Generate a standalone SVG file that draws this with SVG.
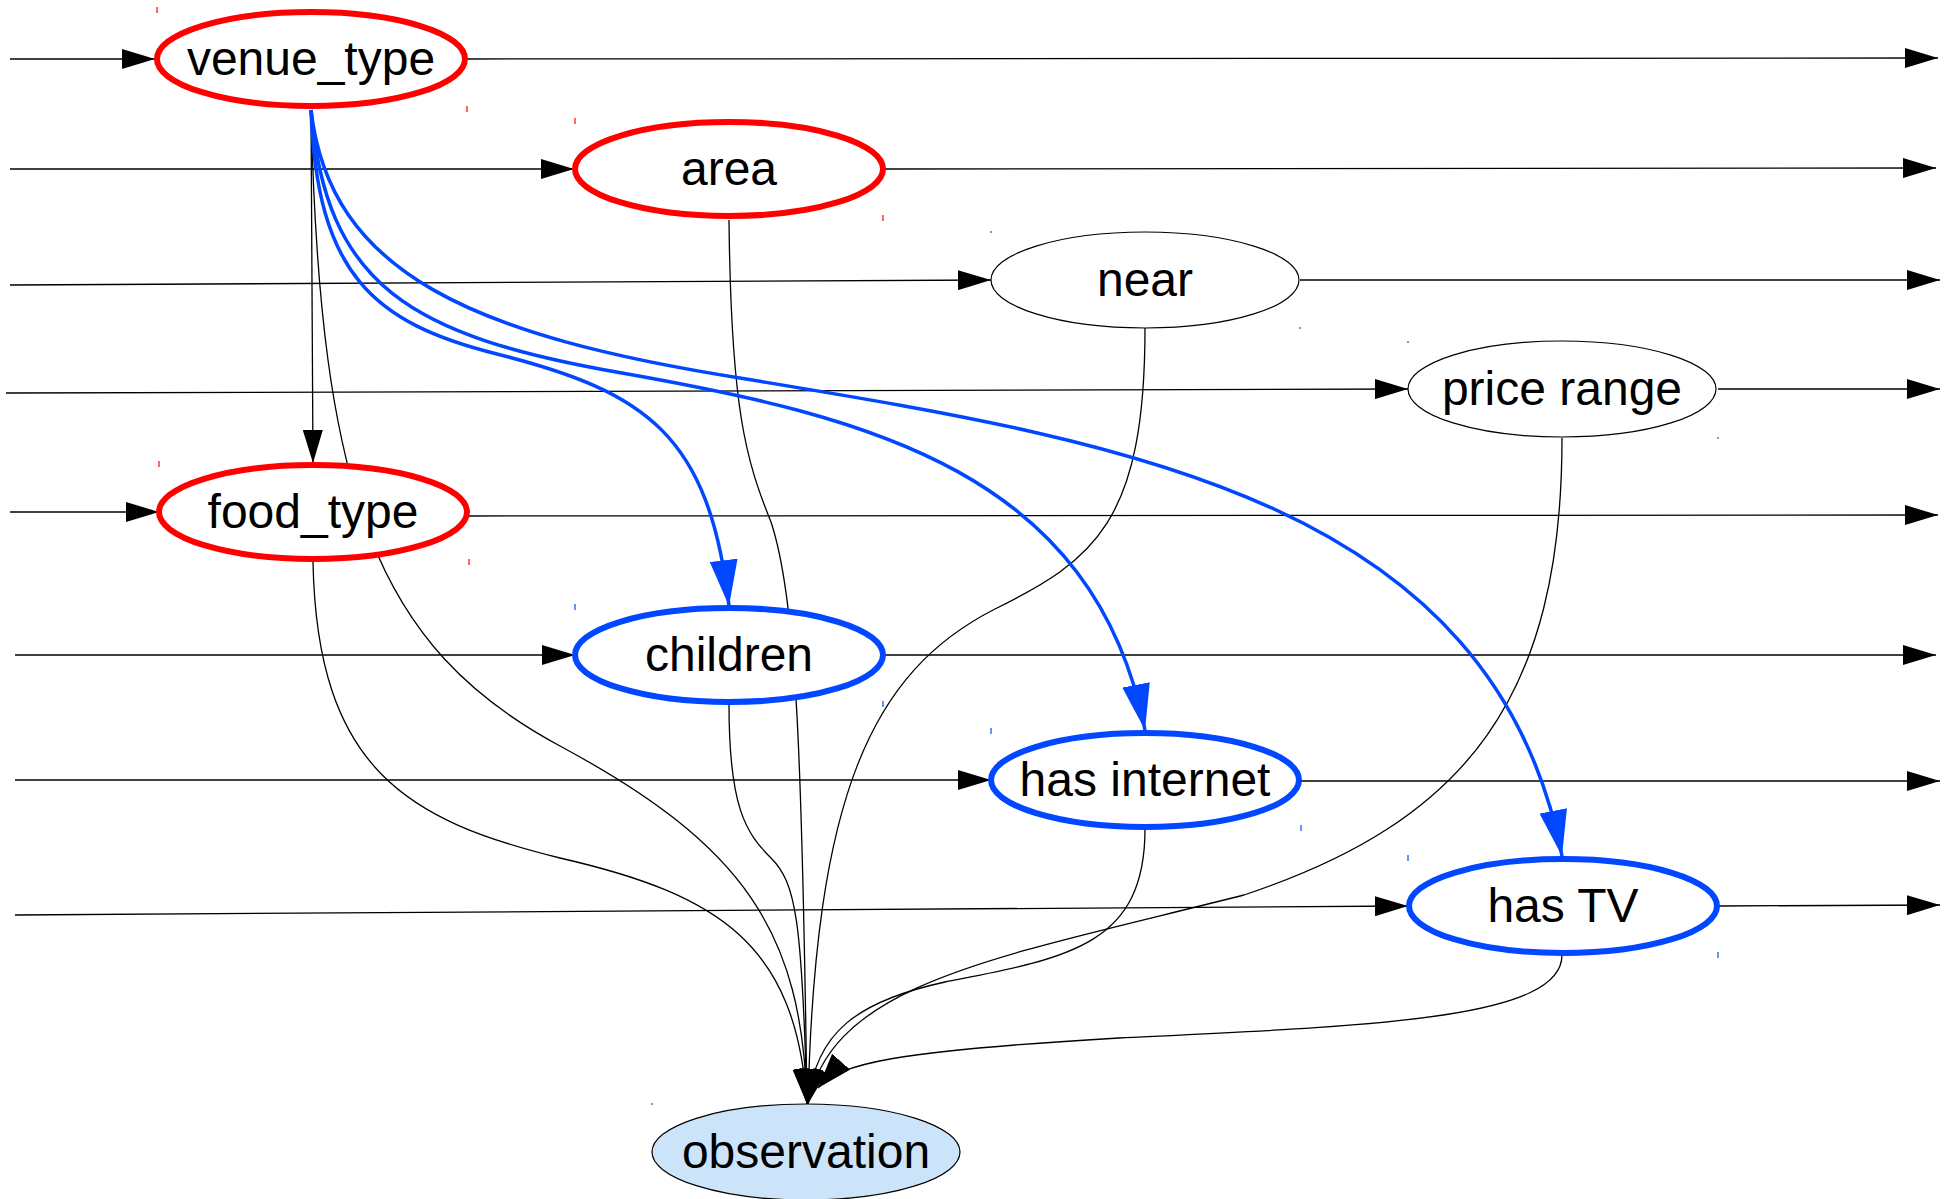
<svg xmlns="http://www.w3.org/2000/svg" width="1950" height="1199" viewBox="0 0 1950 1199">
<style>
.lbl{font-family:"Liberation Sans",Arial,sans-serif;font-size:48px;fill:#000;text-anchor:middle}
.red{fill:#fff;stroke:#ff0000;stroke-width:6}
.blue{fill:#fff;stroke:#0047ff;stroke-width:6}
.plain{fill:#fff;stroke:#000;stroke-width:1.2}
.obs{fill:#cce4fa;stroke:#000;stroke-width:1.2}
.e{fill:none;stroke:#000;stroke-width:1.3}
.be{fill:none;stroke:#0047ff;stroke-width:3.5}
.tr{stroke:#ff0000;stroke-width:1.2}
.tb{stroke:#0047ff;stroke-width:1.2}
.tk{stroke:#555;stroke-width:1.2}
</style>
<defs>
<marker id="ah" markerUnits="userSpaceOnUse" markerWidth="33" markerHeight="20" refX="33" refY="10" orient="auto"><path d="M0,0 L33,10 L0,20 z" fill="#000"/></marker>
<marker id="oh" markerUnits="userSpaceOnUse" markerWidth="35" markerHeight="24" refX="35" refY="12" orient="auto"><path d="M0,0 L35,12 L0,24 z" fill="#000"/></marker>
<marker id="bh" markerUnits="userSpaceOnUse" markerWidth="46" markerHeight="28" refX="46" refY="14" orient="auto"><path d="M0,0 L46,14 L0,28 z" fill="#0047ff"/></marker>
</defs>
<g id="connectors">
<line class="e" x1="10" y1="59" x2="155" y2="59" marker-end="url(#ah)"/>
<line class="e" x1="10" y1="169" x2="574" y2="169" marker-end="url(#ah)"/>
<line class="e" x1="10" y1="285" x2="991" y2="280" marker-end="url(#ah)"/>
<line class="e" x1="6" y1="393" x2="1408" y2="389" marker-end="url(#ah)"/>
<line class="e" x1="10" y1="512" x2="159" y2="512" marker-end="url(#ah)"/>
<line class="e" x1="15" y1="655" x2="575" y2="655" marker-end="url(#ah)"/>
<line class="e" x1="15" y1="780" x2="991" y2="780" marker-end="url(#ah)"/>
<line class="e" x1="15" y1="915" x2="1408" y2="906" marker-end="url(#ah)"/>
<line class="e" x1="466" y1="59" x2="1938" y2="58" marker-end="url(#ah)"/>
<line class="e" x1="883" y1="169" x2="1936" y2="168" marker-end="url(#ah)"/>
<line class="e" x1="1300" y1="280" x2="1940" y2="280" marker-end="url(#ah)"/>
<line class="e" x1="1718" y1="389" x2="1940" y2="389" marker-end="url(#ah)"/>
<line class="e" x1="469" y1="516" x2="1938" y2="515" marker-end="url(#ah)"/>
<line class="e" x1="883" y1="655" x2="1936" y2="655" marker-end="url(#ah)"/>
<line class="e" x1="1301" y1="781" x2="1940" y2="781" marker-end="url(#ah)"/>
<line class="e" x1="1718" y1="906" x2="1940" y2="905" marker-end="url(#ah)"/>
<line class="e" x1="311" y1="110" x2="313" y2="463" marker-end="url(#ah)"/>
<path class="e" d="M311,110 C320,497 376,647 560,746 C746,846 802,933 807,1104" marker-end="url(#oh)"/>
<path class="e" d="M729,220 C731,410 746,460 771,522 C796,597 802,746 807,1104" marker-end="url(#oh)"/>
<path class="e" d="M1145,328 C1145,522 1094,560 995,609 C871,672 815,796 808,1104" marker-end="url(#oh)"/>
<path class="e" d="M1562,438 C1562,697 1467,821 1244,895 C995,958 833,982 808,1104" marker-end="url(#oh)"/>
<path class="e" d="M313,562 C317,771 410,821 560,858 C721,895 796,945 807,1104" marker-end="url(#oh)"/>
<path class="e" d="M729,704 C729,808 746,833 771,858 C796,883 802,920 807,1104" marker-end="url(#oh)"/>
<path class="e" d="M1145,829 C1145,945 1069,958 945,982 C858,1001 815,1032 808,1104" marker-end="url(#oh)"/>
<path class="e" d="M1562,955 C1562,1020 1368,1026 1119,1038 C895,1051 840,1063 818,1088" marker-end="url(#oh)"/>
<path class="be" d="M311,110 C317,274 373,323 497,354 C647,392 709,435 729,606" marker-end="url(#bh)"/>
<path class="be" d="M311,110 C326,286 410,336 622,373 C871,417 1094,473 1145,730" marker-end="url(#bh)"/>
<path class="be" d="M311,110 C330,274 473,336 746,379 C1119,441 1492,497 1562,856" marker-end="url(#bh)"/>
</g>
<g id="venue_type"><ellipse class="red" cx="311" cy="59" rx="154" ry="47"/><text class="lbl" x="311" y="75">venue_type</text><line class="tr" x1="157" y1="7" x2="157" y2="13"/><line class="tr" x1="467" y1="106" x2="467" y2="112"/></g>
<g id="area"><ellipse class="red" cx="729" cy="169" rx="154" ry="47"/><text class="lbl" x="729" y="185">area</text><line class="tr" x1="575" y1="118" x2="575" y2="124"/><line class="tr" x1="883" y1="215" x2="883" y2="221"/></g>
<g id="near"><ellipse class="plain" cx="1145" cy="280" rx="154" ry="48"/><text class="lbl" x="1145" y="296">near</text><line class="tk" x1="991" y1="231" x2="991" y2="233"/><line class="tk" x1="1300" y1="327" x2="1300" y2="329"/></g>
<g id="price_range"><ellipse class="plain" cx="1562" cy="389" rx="154" ry="48"/><text class="lbl" x="1562" y="405">price range</text><line class="tk" x1="1408" y1="341" x2="1408" y2="343"/><line class="tk" x1="1718" y1="437" x2="1718" y2="439"/></g>
<g id="food_type"><ellipse class="red" cx="313" cy="512" rx="154" ry="47"/><text class="lbl" x="313" y="528">food_type</text><line class="tr" x1="159" y1="461" x2="159" y2="467"/><line class="tr" x1="469" y1="559" x2="469" y2="565"/></g>
<g id="children"><ellipse class="blue" cx="729" cy="655" rx="154" ry="47"/><text class="lbl" x="729" y="671">children</text><line class="tb" x1="575" y1="604" x2="575" y2="610"/><line class="tb" x1="883" y1="701" x2="883" y2="707"/></g>
<g id="has_internet"><ellipse class="blue" cx="1145" cy="780" rx="154" ry="47"/><text class="lbl" x="1145" y="796">has internet</text><line class="tb" x1="991" y1="728" x2="991" y2="734"/><line class="tb" x1="1301" y1="825" x2="1301" y2="831"/></g>
<g id="has_TV"><ellipse class="blue" cx="1563" cy="906" rx="154" ry="47"/><text class="lbl" x="1563" y="922">has TV</text><line class="tb" x1="1408" y1="855" x2="1408" y2="861"/><line class="tb" x1="1718" y1="952" x2="1718" y2="958"/></g>
<g id="observation"><ellipse class="obs" cx="806" cy="1152" rx="154" ry="48"/><text class="lbl" x="806" y="1168">observation</text><line class="tk" x1="652" y1="1103" x2="652" y2="1105"/></g>
</svg>
